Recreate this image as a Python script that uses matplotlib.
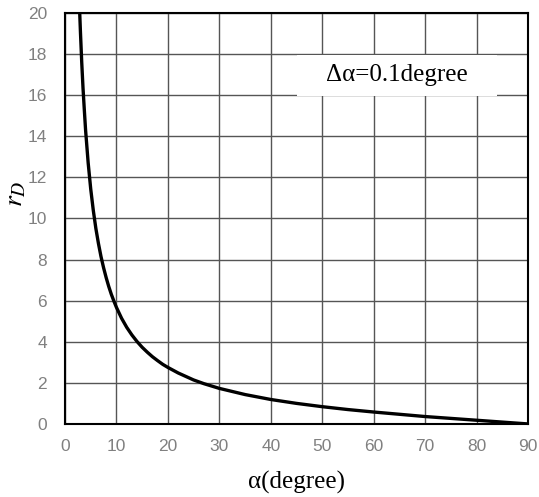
import numpy as np
import matplotlib
matplotlib.use("Agg")
import matplotlib.pyplot as plt
from matplotlib.patches import Rectangle

plt.rcParams['mathtext.fontset'] = 'stix'

# values
alpha = [2.86, 3, 3.25, 3.5, 3.75, 4, 4.5, 5, 5.5, 6, 6.5, 7, 7.5, 8, 8.5, 9, 9.5, 10,
         11, 12, 13, 14, 15, 16, 17, 18, 19, 20, 22, 25, 27, 30, 35, 40,
         45, 50, 55, 60, 65, 70, 75, 80, 85, 90]
r_d = [20.0, 19.08, 17.6, 16.35, 15.3, 14.30, 12.71, 11.43, 10.39, 9.51, 8.78, 8.14,
       7.60, 7.12, 6.69, 6.31, 5.98, 5.67, 5.14, 4.70, 4.33, 4.01, 3.73, 3.49, 3.27,
       3.08, 2.90, 2.75, 2.48, 2.14, 1.96, 1.73, 1.43, 1.19, 1.00, 0.84, 0.70, 0.58,
       0.47, 0.36, 0.27, 0.18, 0.09, 0.0]
xticks = list(range(0, 91, 10))
yticks = list(range(0, 21, 2))

fig = plt.figure(figsize=(5.39, 4.97), dpi=100)
ax = fig.add_axes([0.1206, 0.147, 0.859, 0.827])

ax.plot(alpha, r_d, color='black', lw=2.4, zorder=3, solid_capstyle='butt')
ax.set_xlim(0, 90)
ax.set_ylim(0, 20)
ax.set_xticks(xticks)
ax.set_yticks(yticks)
ax.grid(True, color='#555555', lw=1.0)
ax.tick_params(axis='y', length=0, labelsize=12.5, labelcolor='#808080', pad=13)
ax.tick_params(axis='x', length=0, labelsize=12.5, labelcolor='#808080', pad=11)
for lbl in ax.get_xticklabels() + ax.get_yticklabels():
    lbl.set_family('Liberation Sans')
for s in ax.spines.values():
    s.set_color('black')
    s.set_linewidth(1.5)

ax.set_xlabel('α(degree)', family='Liberation Serif', fontsize=18, labelpad=12)
ax.set_ylabel('$r_D$', fontsize=20)
ax.yaxis.set_label_coords(-0.08, 0.56)

ax.add_patch(Rectangle((0.501, 0.798), 0.432, 0.1, transform=ax.transAxes,
                       facecolor='white', edgecolor='none', zorder=4))
ax.text(0.717, 0.848, 'Δα=0.1degree', transform=ax.transAxes,
        family='Liberation Serif', fontsize=18, ha='center', va='center', zorder=5)

fig.savefig('out.png', dpi=100)
